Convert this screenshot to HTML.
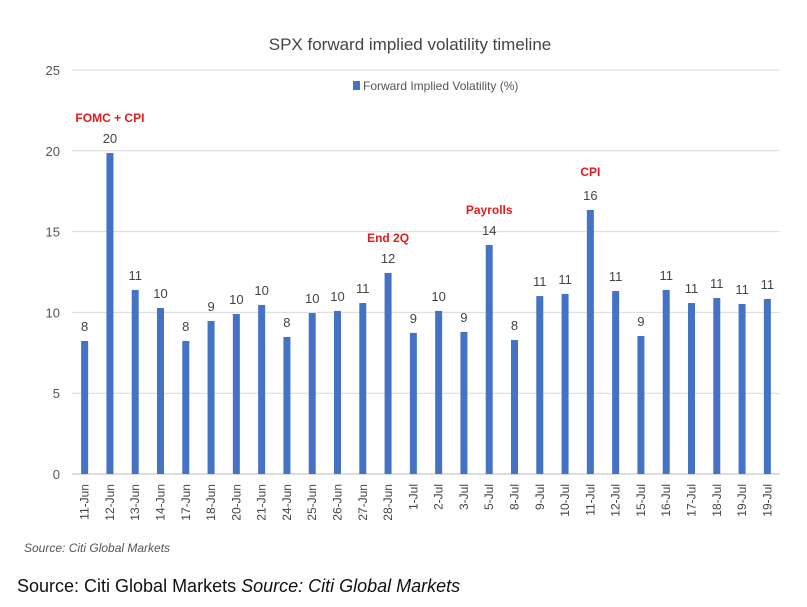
<!DOCTYPE html>
<html><head><meta charset="utf-8"><style>
body{margin:0;background:#fff;width:807px;height:607px;overflow:hidden;font-family:"Liberation Sans",sans-serif}
#src1{position:absolute;left:24px;top:541px;font-size:12px;font-style:italic;color:#555}
#src2{position:absolute;left:17px;top:576px;font-size:18px;color:#111}
</style></head><body>
<svg id="chart" width="807" height="540" style="position:absolute;left:0;top:0" font-family="Liberation Sans, sans-serif"></svg>
<div id="src1">Source: Citi Global Markets</div>
<div id="src2">Source: Citi Global Markets <i>Source: Citi Global Markets</i></div>
<script>
const categories=["11-Jun","12-Jun","13-Jun","14-Jun","17-Jun","18-Jun","20-Jun","21-Jun","24-Jun","25-Jun","26-Jun","27-Jun","28-Jun","1-Jul","2-Jul","3-Jul","5-Jul","8-Jul","9-Jul","10-Jul","11-Jul","12-Jul","15-Jul","16-Jul","17-Jul","18-Jul","19-Jul","19-Jul"];
const values=[8.23,19.86,11.39,10.27,8.23,9.47,9.9,10.46,8.48,9.96,10.09,10.58,12.44,8.73,10.09,8.79,14.17,8.29,11.01,11.14,16.34,11.32,8.54,11.39,10.58,10.89,10.52,10.83];
const yTicks=[0,5,10,15,20,25];
const annotations=[{i:1,text:"FOMC + CPI",dx:0,dy:-31},{i:12,text:"End 2Q",dx:0,dy:-31},{i:16,text:"Payrolls",dx:0,dy:-31},{i:20,text:"CPI",dx:0,dy:-34}];
const svg=document.getElementById('chart');const NS='http://www.w3.org/2000/svg';
function mk(t,a,txt){const e=document.createElementNS(NS,t);for(const k in a)e.setAttribute(k,a[k]);if(txt!=null)e.textContent=txt;svg.appendChild(e);return e;}
const x0=72,x1=780,y0=474,y1=70;
const y=v=>y0-(v/25)*(y0-y1);
const step=(x1-x0)/categories.length;
const x=i=>x0+step*(i+0.5);
let t=mk('text',{x:410,y:50,'text-anchor':'middle','font-size':17,fill:'#444'},'SPX forward implied volatility timeline');

yTicks.forEach(v=>{
 const l=mk('line',{x1:x0,x2:x1,y1:y(v),y2:y(v),stroke:v===0?'#bbb':'#d9d9d9','stroke-width':1});
 
 const tx=mk('text',{x:60,y:y(v)+5,'text-anchor':'end','font-size':13,fill:'#555'},v);
 
});
const lg=mk('rect',{x:353,y:81,width:7,height:9,fill:'#4472c4'});

const lt=mk('text',{x:363,y:90,'font-size':12,fill:'#555'},'Forward Implied Volatility (%)');

values.forEach((v,i)=>{
 const b=mk('rect',{x:x(i)-3.5,y:y(v),width:7,height:y0-y(v),fill:'#4472c4'});
 
 const vl=mk('text',{x:x(i),y:y(v)-10,'text-anchor':'middle','font-size':13,fill:'#444'},Math.round(v));
 
 const cx=x(i)+4,cy=484;
 const xl=mk('text',{x:cx,y:cy,'text-anchor':'end','font-size':12,fill:'#444',transform:`rotate(-90 ${cx} ${cy})`},categories[i]);
 
});
annotations.forEach(a=>{
 const an=mk('text',{x:x(a.i)+a.dx,y:y(values[a.i])+a.dy,'text-anchor':'middle','font-size':12,'font-weight':'bold',fill:'#e31b1b'},a.text);
 
});
</script>
</body></html>
